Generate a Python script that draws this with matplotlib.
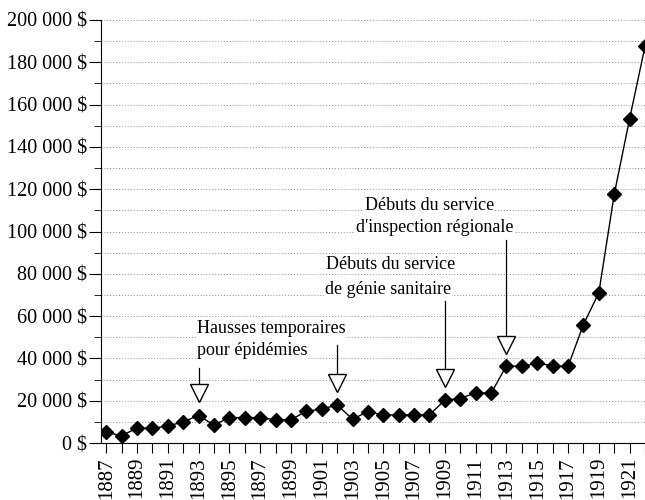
# Dépenses annuelles 1887-1922 avec annotations
import matplotlib
matplotlib.use('Agg')
import matplotlib.pyplot as plt
from matplotlib.ticker import MultipleLocator, FuncFormatter

annees = list(range(1887, 1923))
depenses = [5000, 3500, 7000, 7000, 8000, 10000, 13000, 8500, 12000, 12000,
            12000, 11000, 11000, 15000, 16000, 18000, 11300, 14800, 13300, 13300,
            13300, 13300, 20300, 21000, 23800, 23500, 36500, 36200, 37800, 36500,
            36200, 56000, 71000, 117500, 153300, 187500]

# triangles d'annotation : année, position du triangle, haut de la flèche
fleche_annees = [1893, 1902, 1909, 1913]
fleche_y = [23700, 28300, 30700, 46500]
fleche_haut = [35500, 46500, 67000, 96000]

# lignes de texte : x, y, texte
textes_x = [1892.9, 1892.9, 1901.3, 1901.2, 1903.8, 1903.2]
textes_y = [54000, 43500, 84600, 72700, 112400, 102000]
textes = ['Hausses temporaires', 'pour épidémies',
          'Débuts du service', 'de génie sanitaire',
          'Débuts du service', "d'inspection régionale"]

plt.rcParams['font.family'] = ['Liberation Serif', 'DejaVu Serif']

fig = plt.figure(figsize=(6.45, 5.0), dpi=100)
ax = fig.add_axes([0.157, 0.114, 0.843, 0.846])

# grille pointillée
for v in range(10000, 200001, 10000):
    ax.axhline(v, color='#888888', lw=0.7, ls=(0, (1, 2)), zorder=0)

ax.plot(annees, depenses, color='black', lw=1, marker='D', ms=7,
        markerfacecolor='black', zorder=3)

for a, yt, yh in zip(fleche_annees, fleche_y, fleche_haut):
    ax.plot([a, a], [yt + 3000, yh], color='black', lw=0.9, zorder=3)
    ax.plot(a, yt, marker='v', ms=13, markerfacecolor='white',
            markeredgecolor='black', markeredgewidth=1, zorder=4)

for x, y, t in zip(textes_x, textes_y, textes):
    ax.text(x, y, t, ha='left', va='center', fontsize=13, zorder=5,
            bbox=dict(facecolor='white', edgecolor='none', pad=0.5))

ax.set_xlim(1886.68, 1922.0)
ax.set_ylim(0, 200000)

ax.spines['top'].set_visible(False)
ax.spines['right'].set_visible(False)

ax.yaxis.set_major_locator(MultipleLocator(20000))
ax.yaxis.set_minor_locator(MultipleLocator(10000))
ax.yaxis.set_major_formatter(FuncFormatter(
    lambda v, p: '{:,.0f} $'.format(v).replace(',', ' ')))
ax.tick_params(axis='y', which='major', length=9, pad=1, labelsize=14.5,
               direction='out')
ax.tick_params(axis='y', which='minor', length=5, direction='out')

ax.set_xticks(annees)
ax.set_xticklabels([str(a) if a % 2 == 1 else '' for a in annees], rotation=90)
ax.tick_params(axis='x', length=7, pad=3, labelsize=15, direction='out')

fig.savefig('out.png', dpi=100)
